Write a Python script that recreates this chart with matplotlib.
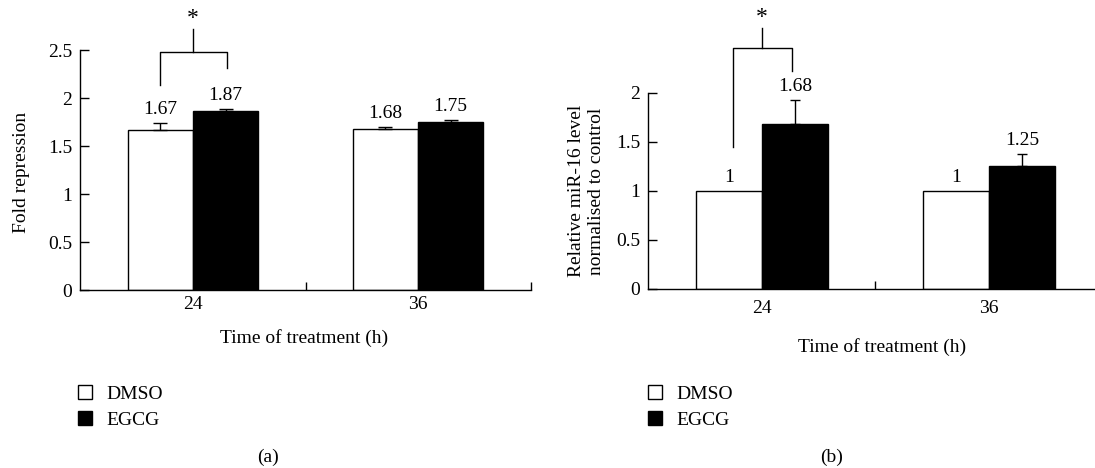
import matplotlib
matplotlib.use('Agg')
import matplotlib.pyplot as plt
import numpy as np

plt.rcParams['font.family'] = ['Liberation Serif', 'DejaVu Serif']
plt.rcParams['font.size'] = 14

times = ['24', '36']
groups = ['DMSO', 'EGCG']

# panel (a) fold repression
fold_dmso = [1.67, 1.68]
fold_egcg = [1.87, 1.75]
fold_dmso_err = [0.07, 0.02]
fold_egcg_err = [0.02, 0.02]

# panel (b) relative miR-16 level
mir_dmso = [1.0, 1.0]
mir_egcg = [1.68, 1.25]
mir_dmso_err = [0.0, 0.0]
mir_egcg_err = [0.25, 0.125]

BAR_W = 0.29


def fmt(v):
    return '%g' % v if v == int(v) else '%.2f' % v


def draw_panel(ax, dmso, egcg, dmso_err, egcg_err, ymax, cap, br):
    x = np.arange(len(times))
    b1 = ax.bar(x - BAR_W / 2, dmso, BAR_W, color='white', edgecolor='black', lw=1)
    b2 = ax.bar(x + BAR_W / 2, egcg, BAR_W, color='black', edgecolor='black', lw=1)
    for xs, vals, errs in [(x - BAR_W / 2, dmso, dmso_err), (x + BAR_W / 2, egcg, egcg_err)]:
        for xi, v, e in zip(xs, vals, errs):
            if e > 0:
                ax.errorbar([xi], [v], yerr=[[0], [e]], fmt='none', ecolor='black',
                            elinewidth=1, capsize=cap, capthick=1)
            ax.annotate(fmt(v), (xi, v + e), xytext=(0, 3.5), textcoords='offset points',
                        ha='center', va='bottom', fontsize=14)

    ax.set_xlim(-0.5, 1.5)
    ax.set_ylim(0, ymax)
    yt = np.arange(0, ymax + 0.001, 0.5)
    ax.set_yticks(yt)
    ax.set_yticklabels(['%g' % t for t in yt])
    ax.set_xticks(x)
    ax.set_xticklabels(times)
    ax.set_xticks([0.5, 1.5], minor=True)
    ax.tick_params(axis='x', which='minor', direction='in', length=6, width=1)
    ax.tick_params(axis='y', direction='in', length=6.5, width=1, pad=6)
    for s in ['top', 'right']:
        ax.spines[s].set_visible(False)
    for s in ['left', 'bottom']:
        ax.spines[s].set_linewidth(1)

    # significance bracket
    xl, xr, yl, yr, ytop, ystem = br
    ax.plot([xl, xl, xr, xr], [yl, ytop, ytop, yr], color='black', lw=1, clip_on=False)
    ax.plot([0, 0], [ytop, ystem], color='black', lw=1, clip_on=False)
    ax.text(0, ystem, '*', ha='center', va='bottom', fontsize=17, clip_on=False)
    return b1, b2


fig = plt.figure(figsize=(10.95, 4.68), dpi=100)
ax1 = fig.add_axes([0.0735, 0.380, 0.411, 0.513])
ax2 = fig.add_axes([0.5922, 0.3825, 0.4146, 0.4188])

h1 = draw_panel(ax1, fold_dmso, fold_egcg, fold_dmso_err, fold_egcg_err, 2.5, 5,
                (-0.147, 0.15, 2.135, 2.31, 2.48, 2.72))
ax1.tick_params(axis='x', which='major', length=0, pad=4)
ax1.set_ylabel('Fold repression')
ax1.yaxis.set_label_coords(-0.112, 0.49)
ax1.set_xlabel('Time of treatment (h)')
ax1.xaxis.set_label_coords(0.496, -0.16)

h2 = draw_panel(ax2, mir_dmso, mir_egcg, mir_dmso_err, mir_egcg_err, 2.0, 3.8,
                (-0.126, 0.133, 1.452, 2.224, 2.456, 2.66))
ax2.tick_params(axis='x', which='major', length=0, pad=8)
ax2.set_ylabel('Relative miR-16 level\nnormalised to control', linespacing=1.2)
ax2.yaxis.set_label_coords(-0.096, 0.5)
ax2.set_xlabel('Time of treatment (h)')
ax2.xaxis.set_label_coords(0.514, -0.25)

for h, x0 in [(h1, 0.071), (h2, 0.592)]:
    fig.legend(h, groups, loc='upper left', bbox_to_anchor=(x0, 1 - 385 / 468), frameon=False,
               handlelength=0.72, handleheight=0.72, handletextpad=0.75, labelspacing=0.45,
               borderaxespad=0, borderpad=0, fontsize=14)

fig.text(268 / 1095, 1 - 457 / 468, '(a)', ha='center', va='center', fontsize=14)
fig.text(832 / 1095, 1 - 457 / 468, '(b)', ha='center', va='center', fontsize=14)

fig.savefig('out.png', dpi=100)
